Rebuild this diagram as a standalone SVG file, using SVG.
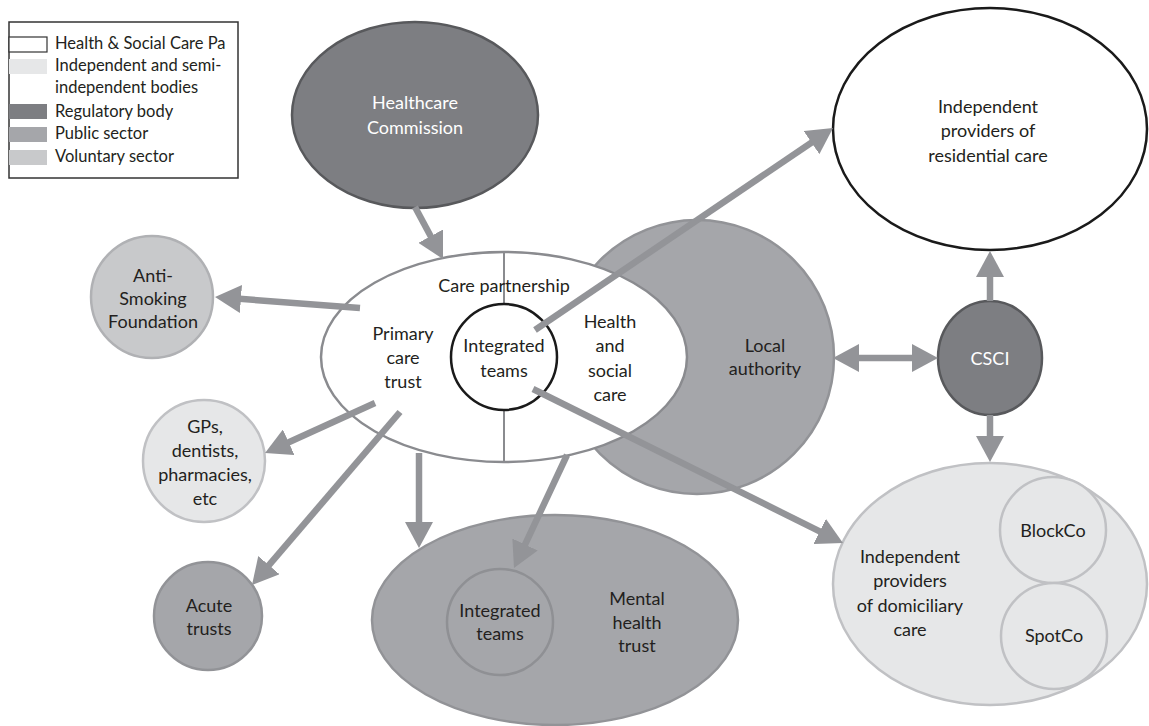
<svg xmlns="http://www.w3.org/2000/svg" width="1149" height="726" viewBox="0 0 1149 726">
<defs>
<style>
text{font-family:Lato,"Liberation Sans","DejaVu Sans",sans-serif;font-size:18px;fill:#231f20;text-anchor:middle}
.lg text{text-anchor:start;font-size:16.5px}
.w{fill:#fff}
.reg{fill:#7d7e82;stroke:#58595c;stroke-width:2.5}
.pub{fill:#a5a6aa;stroke:#929397;stroke-width:2.5}
.vol{fill:#c8c9cb;stroke:#b0b1b4;stroke-width:2.5}
.ind{fill:#e6e7e8;stroke:#c0c1c4;stroke-width:2.5}
.hsc{fill:#fff;stroke:#8a8b8f;stroke-width:2.5}
.blk{fill:#fff;stroke:#1a1a1a;stroke-width:2.5}
.con line{stroke:#939498;stroke-width:6.5;marker-end:url(#ah)}
</style>
<marker id="ah" markerUnits="userSpaceOnUse" markerWidth="26" markerHeight="28" refX="18" refY="14" orient="auto-start-reverse">
<path d="M0,0 L26,14 L0,28 z" fill="#939498"/>
</marker>
</defs>
<rect width="1149" height="726" fill="#fff"/>

<g id="legend" class="lg">
<rect x="9" y="22" width="229" height="156" fill="#fff" stroke="#333" stroke-width="1.5"/>
<rect x="9" y="37" width="38" height="15" fill="#fff" stroke="#333" stroke-width="1.2"/>
<rect x="9" y="59" width="38" height="15" fill="#e6e7e8"/>
<rect x="9" y="104" width="38" height="15" fill="#7d7e82"/>
<rect x="9" y="127" width="38" height="15" fill="#a5a6aa"/>
<rect x="9" y="150" width="38" height="15" fill="#c8c9cb"/>
<text x="55" y="49">Health &amp; Social Care Pa</text>
<text x="55" y="71">Independent and semi-</text>
<text x="55" y="93">independent bodies</text>
<text x="55" y="117">Regulatory body</text>
<text x="55" y="139">Public sector</text>
<text x="55" y="162">Voluntary sector</text>
</g>

<g id="healthcare-commission">
<ellipse cx="415" cy="115" rx="123" ry="93" class="reg"/>
<text x="415" y="109" class="w">Healthcare</text>
<text x="415" y="134" class="w">Commission</text>
</g>

<g id="local-authority">
<circle cx="697" cy="357" r="137" class="pub"/>
<text x="765" y="352">Local</text>
<text x="765" y="375">authority</text>
</g>

<g id="care-partnership">
<ellipse cx="504" cy="357" rx="183" ry="105" class="hsc"/>
<line x1="504" y1="253" x2="504" y2="305" stroke="#8a8b8f" stroke-width="2"/>
<line x1="504" y1="409" x2="504" y2="462" stroke="#8a8b8f" stroke-width="2"/>
<text x="504" y="292">Care partnership</text>
<text x="403" y="340">Primary</text>
<text x="403" y="364">care</text>
<text x="403" y="388">trust</text>
<text x="610" y="328">Health</text>
<text x="610" y="352">and</text>
<text x="610" y="377">social</text>
<text x="610" y="401">care</text>
</g>

<g id="integrated-teams">
<circle cx="504" cy="357" r="53" class="blk"/>
<text x="504" y="352">Integrated</text>
<text x="504" y="377">teams</text>
</g>

<g id="anti-smoking">
<circle cx="152" cy="297" r="61" class="vol"/>
<text x="153" y="282">Anti-</text>
<text x="153" y="305">Smoking</text>
<text x="153" y="328">Foundation</text>
</g>

<g id="gps">
<circle cx="204" cy="461" r="61" class="ind"/>
<text x="205" y="433">GPs,</text>
<text x="205" y="457">dentists,</text>
<text x="205" y="481">pharmacies,</text>
<text x="205" y="505">etc</text>
</g>

<g id="acute-trusts">
<circle cx="208" cy="616" r="54" class="pub"/>
<text x="209" y="612">Acute</text>
<text x="209" y="635">trusts</text>
</g>

<g id="mental-health-trust">
<ellipse cx="555" cy="620" rx="183" ry="105" class="pub"/>
<circle cx="500" cy="622" r="53" fill="#a5a6aa" stroke="#8f9094" stroke-width="2.5"/>
<text x="500" y="617">Integrated</text>
<text x="500" y="640">teams</text>
<text x="637" y="605">Mental</text>
<text x="637" y="629">health</text>
<text x="637" y="652">trust</text>
</g>

<g id="residential-care">
<ellipse cx="990" cy="129" rx="157" ry="121" class="blk"/>
<text x="988" y="113">Independent</text>
<text x="988" y="137">providers of</text>
<text x="988" y="162">residential care</text>
</g>

<g id="csci">
<ellipse cx="990" cy="358" rx="52" ry="57" class="reg"/>
<text x="990" y="365" class="w">CSCI</text>
</g>

<g id="domiciliary-care">
<ellipse cx="990" cy="584" rx="157" ry="121" class="ind"/>
<circle cx="1053" cy="530" r="53" class="ind"/>
<circle cx="1054" cy="636" r="53" class="ind"/>
<text x="1053" y="537">BlockCo</text>
<text x="1054" y="642">SpotCo</text>
<text x="910" y="563">Independent</text>
<text x="910" y="587">providers</text>
<text x="910" y="612">of domiciliary</text>
<text x="910" y="636">care</text>
</g>

<g id="connectors" class="con">
<line x1="415" y1="207" x2="439.2" y2="252"/>
<line x1="360" y1="308" x2="223" y2="297.6"/>
<line x1="375" y1="403" x2="272.3" y2="449.7"/>
<line x1="400" y1="412" x2="257.2" y2="578.9"/>
<line x1="419" y1="453" x2="419" y2="540"/>
<line x1="567" y1="455" x2="517.4" y2="560.8"/>
<line x1="535" y1="330" x2="826.4" y2="132.5"/>
<line x1="533" y1="389" x2="835.8" y2="539.4"/>
<line x1="841" y1="358" x2="930" y2="358" marker-start="url(#ah)"/>
<line x1="990" y1="301" x2="990" y2="259"/>
<line x1="990" y1="415" x2="990" y2="454"/>
</g>
</svg>
